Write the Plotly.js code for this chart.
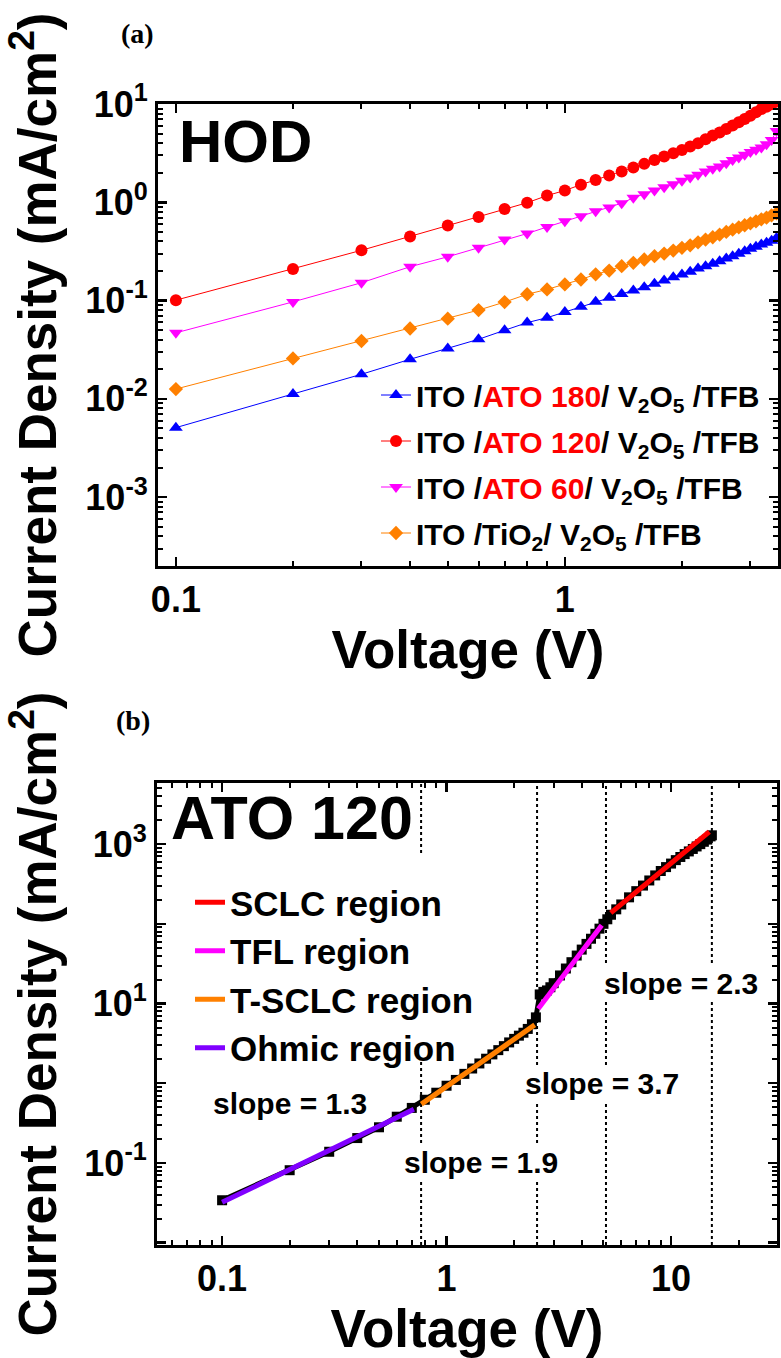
<!DOCTYPE html>
<html>
<head>
<meta charset="utf-8">
<script src="https://cdn.plot.ly/plotly-3.0.1.min.js"></script>
<style>html,body{margin:0;padding:0;background:#fff;}</style>
</head>
<body>
<div id="chart" style="width:781px;height:1358px;"></div>
<script>
// ---------- Panel (a): HOD J-V data ----------
const voltageA = [0.1,0.2,0.3,0.4,0.5,0.6,0.7,0.8,0.9,1.0,1.1,1.2,1.3,1.4,1.5,1.6,1.7,1.8,1.9,2.0,2.1,2.2,2.3,2.4,2.5,2.6,2.7,2.8,2.9,3.0,3.1,3.2,3.3,3.4,3.5];
const jATO180 = [0.0051,0.0112,0.0178,0.0253,0.0325,0.0404,0.0499,0.0597,0.067,0.0766,0.0868,0.0975,0.107,0.117,0.127,0.137,0.148,0.160,0.173,0.184,0.196,0.212,0.224,0.237,0.252,0.268,0.283,0.299,0.318,0.336,0.352,0.372,0.387,0.407,0.434];
const jATO120 = [0.101,0.21,0.325,0.45,0.58,0.71,0.855,0.99,1.17,1.32,1.51,1.69,1.87,2.06,2.26,2.46,2.70,2.92,3.16,3.41,3.69,3.99,4.38,4.77,5.12,5.58,6.03,6.52,7.05,7.61,8.24,8.9,9.4,9.93,10.6];
const jATO60 = [0.047,0.097,0.152,0.221,0.279,0.344,0.418,0.481,0.561,0.64,0.72,0.81,0.887,0.98,1.11,1.21,1.32,1.42,1.53,1.66,1.79,1.91,2.06,2.19,2.31,2.50,2.70,2.85,3.04,3.24,3.42,3.6,3.90,4.3,5.3];
const jTiO2 = [0.0126,0.0258,0.0388,0.052,0.0655,0.080,0.0966,0.116,0.13,0.146,0.164,0.185,0.202,0.224,0.242,0.262,0.283,0.301,0.323,0.344,0.365,0.392,0.418,0.441,0.469,0.50,0.527,0.557,0.584,0.611,0.64,0.671,0.698,0.736,0.77];
const namesA = [
  'ITO /<span style="color:#FF0000">ATO 180</span>/ V<sub>2</sub>O<sub>5</sub> /TFB',
  'ITO /<span style="color:#FF0000">ATO 120</span>/ V<sub>2</sub>O<sub>5</sub> /TFB',
  'ITO /<span style="color:#FF0000">ATO 60</span>/ V<sub>2</sub>O<sub>5</sub> /TFB',
  'ITO /TiO<sub>2</sub>/ V<sub>2</sub>O<sub>5</sub> /TFB'
];
const xTicksA = [0.1, 1];
const xTickTextA = ['0.1', '1'];
const yTicksA = [0.001, 0.01, 0.1, 1, 10];
const yTickTextA = ['10<sup>-3</sup>','10<sup>-2</sup>','10<sup>-1</sup>','10<sup>0</sup>','10<sup>1</sup>'];

// ---------- Panel (b): ATO 120 measured data + fits ----------
const voltageB = [0.1,0.2,0.3,0.4,0.5,0.6,0.7,0.8,0.9,1.0,1.1,1.2,1.3,1.4,1.5,1.6,1.7,1.8,1.9,2.0,2.1,2.2,2.3,2.4,2.5,
  2.6,2.7,2.8,2.9,3.0,3.2,3.4,3.6,3.8,4.0,4.2,4.4,4.6,4.8,5.0,5.2,5.4,5.7,6.0,6.5,7.0,7.5,8.0,8.5,9.0,9.5,10,10.5,11,11.5,12,12.5,13,13.5,14,14.5,15,15.2];
const jB = [0.034,0.081,0.138,0.205,0.28,0.38,0.49,0.62,0.76,0.93,1.10,1.31,1.53,1.77,2.03,2.30,2.60,2.92,3.25,3.60,3.95,4.3,4.8,5.5,6.7,
  13.0,14.0,14.6,16.0,18.0,22.5,27.5,33,40,47.5,56,65,75,87,100,114,130,152,175,215,257,302,350,405,460,515,570,630,690,750,810,870,935,1000,1070,1140,1250,1290];
const fitOhmicV = [0.1, 0.715];   const fitOhmicJ = [0.032, 0.47];
const fitTSCLCV = [0.772, 2.47];  const fitTSCLCJ = [0.546, 5.4];
const fitTFLV = [2.56, 4.91];     const fitTFLJ = [8.6, 95.7];
const fitSCLCV = [5.39, 14.8];    const fitSCLCJ = [137, 1430];
const regionBounds = [0.77, 2.53, 5.13, 15.2];
const slopeLabels = ['slope = 1.3','slope = 1.9','slope = 3.7','slope = 2.3'];
const xTicksB = [0.1, 1, 10];
const xTickTextB = ['0.1','1','10'];
const yTicksB = [0.01, 0.1, 1, 10, 100, 1000];
const yTickTextB = ['', '10<sup>-1</sup>', '', '10<sup>1</sup>', '', '10<sup>3</sup>'];

// ---------- styling / layout ----------
const W = 781, H = 1358;
const FONT = 'Liberation Sans, Arial, Helvetica, sans-serif';
const SERIF = 'Liberation Serif, Times New Roman, serif';
const px = p => p / W;
const py = p => 1 - p / H;

function logAxis(extra) {
  return Object.assign({
    type: 'log', showline: true, linecolor: 'black', linewidth: 3, mirror: 'ticks',
    ticks: 'inside', ticklen: 9, tickwidth: 2.5, tickcolor: 'black',
    showgrid: false, zeroline: false, automargin: false, fixedrange: true,
    tickmode: 'array',
    tickfont: {family: FONT, size: 36, weight: 'bold', color: 'black'},
    minor: {ticks: 'inside', ticklen: 5, tickwidth: 2, tickcolor: 'black', dtick: 'D1', showgrid: false}
  }, extra);
}

const markerA = [
  {symbol: 'triangle-up', size: 12, color: '#0000FF'},
  {symbol: 'circle', size: 12, color: '#FF0000'},
  {symbol: 'triangle-down', size: 12, color: '#FF00FF'},
  {symbol: 'diamond', size: 11, color: '#FF8000'}
];
const seriesA = [jATO180, jATO120, jATO60, jTiO2];

const traces = seriesA.map((ys, i) => ({
  x: voltageA, y: ys, xaxis: 'x', yaxis: 'y', type: 'scatter', mode: 'lines+markers',
  name: namesA[i], legend: 'legend', legendgroup: 'a' + i,
  line: {color: markerA[i].color, width: 1},
  marker: {symbol: markerA[i].symbol, size: markerA[i].size, color: markerA[i].color, line: {width: 0}}
}));

traces.push({
  x: voltageB, y: jB, xaxis: 'x2', yaxis: 'y2', type: 'scatter', mode: 'lines+markers',
  showlegend: false, line: {color: 'black', width: 5},
  marker: {symbol: 'square', size: 10, color: 'black'}
});
const fits = [
  ['SCLC region', fitSCLCV, fitSCLCJ, '#FF0000'],
  ['TFL region', fitTFLV, fitTFLJ, '#FF00FF'],
  ['T-SCLC region', fitTSCLCV, fitTSCLCJ, '#FF8000'],
  ['Ohmic region', fitOhmicV, fitOhmicJ, '#8000FF']
];
fits.forEach(f => traces.push({
  x: f[1], y: f[2], xaxis: 'x2', yaxis: 'y2', type: 'scatter', mode: 'lines',
  name: f[0], legend: 'legend2', line: {color: f[3], width: 5}
}));

const titleFont = {family: FONT, size: 53, weight: 'bold', color: 'black'};

const slopePos = [[290, 1103], [481, 1162], [602, 1083], [681, 983]];
const annotations = [
  {text: '(a)', x: px(137), y: py(33), font: {family: SERIF, size: 28, weight: 'bold', color: 'black'}},
  {text: '(b)', x: px(133), y: py(720), font: {family: SERIF, size: 28, weight: 'bold', color: 'black'}},
  {text: 'HOD', x: px(246), y: py(142), font: {family: FONT, size: 60, weight: 'bold', color: 'black'}},
  {text: 'ATO 120', x: px(292), y: py(818), font: {family: FONT, size: 61, weight: 'bold', color: 'black'}}
].concat(slopeLabels.map((t, i) => ({
  text: t, x: px(slopePos[i][0]), y: py(slopePos[i][1]), bgcolor: 'white', borderpad: 1,
  font: {family: FONT, size: 30, weight: 'bold', color: 'black'}
}))).map(a => Object.assign({xref: 'paper', yref: 'paper', showarrow: false, xanchor: 'center', yanchor: 'middle'}, a));

// dotted region boundaries; the first one is interrupted behind the legend
const plotB = {top: 783, bottom: 1245};
const dom = p => (plotB.bottom - p) / (plotB.bottom - plotB.top);
const segments = [
  [regionBounds[0], dom(853), 1], [regionBounds[0], 0, dom(1062)],
  [regionBounds[1], 0, 1], [regionBounds[2], 0, 1], [regionBounds[3], 0, 1]
];
const shapes = segments.map(s => ({
  type: 'line', xref: 'x2', yref: 'y2 domain', x0: s[0], x1: s[0], y0: s[1], y1: s[2], layer: 'below',
  line: {color: 'black', width: 2, dash: 'dot'}
}));

const layout = {
  width: W, height: H, margin: {l: 0, r: 0, t: 0, b: 0},
  paper_bgcolor: 'white', plot_bgcolor: 'white',
  font: {family: FONT, color: 'black'},
  xaxis: logAxis({domain: [px(158), px(778)], anchor: 'y', range: [-1.046, 0.548],
    tickvals: xTicksA, ticktext: xTickTextA,
    title: {text: 'Voltage (V)', font: titleFont, standoff: 0}}),
  yaxis: logAxis({domain: [py(566), py(104)], anchor: 'x', range: [-3.70, 1.0],
    tickvals: yTicksA, ticktext: yTickTextA,
    title: {text: 'Current Density (mA/cm<sup>2</sup>)', font: titleFont, standoff: 30}}),
  xaxis2: logAxis({domain: [px(157), px(777)], anchor: 'y2', range: [-1.29, 1.472],
    tickvals: xTicksB, ticktext: xTickTextB,
    title: {text: 'Voltage (V)', font: titleFont, standoff: 12}}),
  yaxis2: logAxis({domain: [py(1245), py(783)], anchor: 'x2', range: [-2.03, 3.767],
    tickvals: yTicksB, ticktext: yTickTextB,
    title: {text: 'Current Density (mA/cm<sup>2</sup>)', font: titleFont, standoff: 30}}),
  legend: {x: px(376), y: py(369), xanchor: 'left', yanchor: 'top', bgcolor: 'rgba(0,0,0,0)',
    traceorder: 'grouped', tracegroupgap: 4,
    font: {family: FONT, size: 30, weight: 'bold', color: 'black'}},
  legend2: {x: px(190), y: py(873), xanchor: 'left', yanchor: 'top', bgcolor: 'rgba(0,0,0,0)',
    font: {family: FONT, size: 35, weight: 'bold', color: 'black'}},
  annotations: annotations,
  shapes: shapes,
  showlegend: true
};

Plotly.newPlot('chart', traces, layout, {staticPlot: true, displayModeBar: false});
</script>
</body>
</html>
